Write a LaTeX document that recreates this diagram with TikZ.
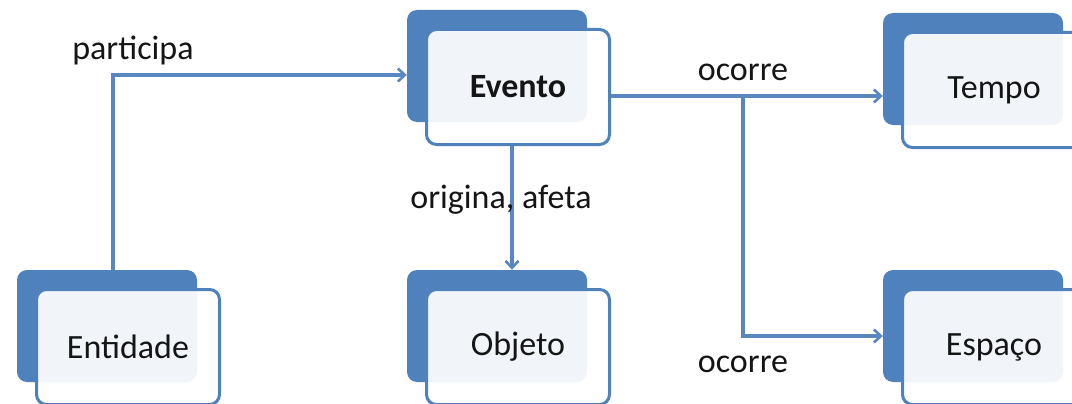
\documentclass[tikz,border=0pt]{standalone}
\usepackage{fontspec}
\setmainfont{Carlito}
\usepackage{tikz}
\usetikzlibrary{positioning, arrows.meta, backgrounds, calc}
\definecolor{boxblue}{HTML}{4F81BD}
\definecolor{lineblue}{HTML}{5A87C0}
\definecolor{inktext}{HTML}{151515}
\tikzstyle{front}=[%
      rectangle, rounded corners=10pt, draw=boxblue, line width=3pt, fill=white, fill opacity=0.92,
      text opacity=1, text=inktext, minimum width=183pt, minimum height=115pt, inner sep=0pt
]
\tikzstyle{back}=[%
      rectangle, rounded corners=10pt, draw=none, fill=boxblue,
      minimum width=180pt, minimum height=112pt, inner sep=0pt
]
\tikzstyle{conn}=[%
      draw=lineblue, line width=3.2pt, -{Straight Barb[length=7pt,width=13pt,line width=2.6pt]}
]
\tikzstyle{lbl}=[%
      text=inktext, inner sep=0pt
]

\begin{document}
\begin{tikzpicture}[x=1pt, y=-1pt, font=\fontsize{34}{40}\selectfont]
    \useasboundingbox (0,0) rectangle (1072,404);
    \clip (0,0) rectangle (1072,404);

    % front boxes carry the text
    \node[front] (evento)   at (518,87)  {\textbf{Evento}};
    \node[front] (tempo)    at (994,90)  {Tempo};
    \node[front] (entidade) at (128,347) {Entidade};
    \node[front] (objeto)   at (518,347) {Objeto};
    \node[front] (espaco)   at (994,347) {Espaço};

    % back boxes, shifted up and left
    \begin{scope}[on background layer]
      \foreach \n in {evento, tempo, entidade, objeto, espaco}
        \node[back] (\n-b) at ($(\n.center)+(-21,-21)$) {};
    \end{scope}

    \coordinate (split) at (743,96);
    \coordinate (turn)  at (743,336);

    \draw[conn] ([xshift=6pt]entidade-b.north) |- ([yshift=-9pt]evento-b.west);
    \draw[conn] (evento.east |- split) -- (tempo-b.west |- split);
    \draw[conn] (split) -- (turn) -- (espaco-b.west |- turn);
    \draw[conn] ([xshift=-6pt]evento.south) -- ([xshift=-6pt]evento.south |- objeto-b.north);

    \node[lbl] (participa) at (133,50)  {participa};
    \node[lbl] (ocorre1)   at (743,72)  {ocorre};
    \node[lbl] (ocorre2)   at (743,364) {ocorre};
    \node[lbl] (origina)   at (501,200) {origina, afeta};
  \end{tikzpicture}
\end{document}
